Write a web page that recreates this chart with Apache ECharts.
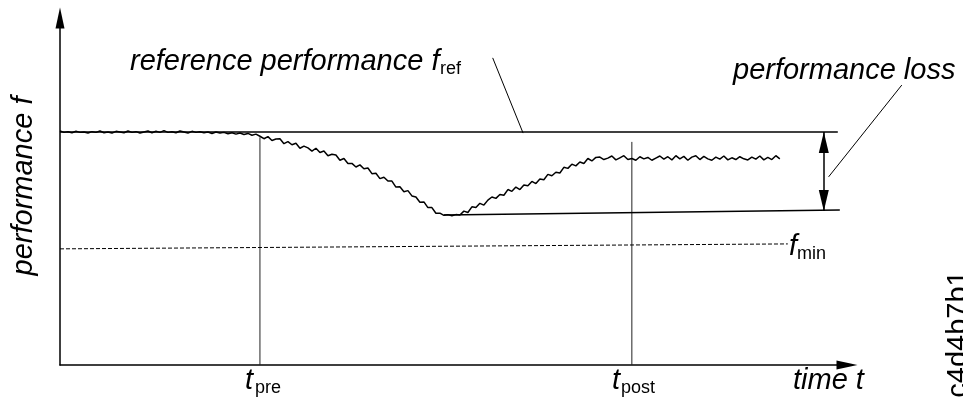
<!DOCTYPE html>
<html>
<head>
<meta charset="utf-8">
<script src="https://cdn.jsdelivr.net/npm/echarts@6/dist/echarts.min.js"></script>
<style>
html,body{margin:0;padding:0;background:#fff;}
#chart{width:963px;height:402px;}
</style>
</head>
<body>
<div id="chart"></div>
<script>
// ---- data (time t, performance f) ----
const performanceCurve = [
[0,66.3],[0.5,65.9],[1,66.1],[1.5,65.8],[2,66.2],[2.5,65.9],[3,66.0],[3.5,65.7],[4,66.1],[4.5,65.9],
[5,66.3],[5.5,65.8],[6,66.0],[6.5,65.7],[7,66.2],[7.5,66.0],[8,65.8],[8.5,66.3],[9,65.9],[9.5,66.1],
[10,65.7],[10.5,66.0],[11,66.3],[11.5,65.8],[12,66.2],[12.5,65.9],[13,66.4],[13.5,65.9],[14,66.1],[14.5,65.8],
[15,66.3],[15.5,66.0],[16,65.7],[16.5,66.2],[17,65.9],[17.5,66.1],[18,65.8],[18.5,66.0],[19,65.6],[19.5,66.0],
[20,65.7],[20.5,65.9],[21,65.5],[21.5,65.8],[22,65.4],[22.5,65.7],[23,65.3],[23.5,65.6],[24,65.1],[24.5,65.4],
[25,64.8],[25.5,64.1],[26,64.7],[26.5,63.6],[27,64.0],[27.5,64.1],[28,62.7],[28.5,63.3],[29,62.4],[29.5,62.8],
[30,61.4],[30.5,62.0],[31,61.5],[31.5,60.6],[32,61.4],[32.5,60.2],[33,60.6],[33.5,59.3],[34,59.7],[34.5,59.5],
[35,58.0],[35.5,58.5],[36,57.1],[36.5,57.1],[37,56.1],[37.5,56.7],[38,55.6],[38.5,55.8],[39,54.2],[39.5,54.3],
[40,52.8],[40.5,53.2],[41,52.1],[41.5,52.1],[42,50.4],[42.5,50.5],[43,49.1],[43.5,49.4],[44,47.9],[44.5,47.6],
[45,46.1],[45.5,46.2],[46,44.6],[46.5,44.6],[47,43.0],[47.5,43.0],[48,42.4],[48.5,42.6],[49,42.3],[49.5,42.6],
[50,42.5],[50.5,43.6],[51,43.2],[51.5,44.8],[52,44.6],[52.5,45.8],[53,45.3],[53.5,46.7],[54,47.6],[54.5,47.2],
[55,48.3],[55.5,48.1],[56,49.7],[56.5,49.2],[57,50.4],[57.5,49.7],[58,51.0],[58.5,50.8],[59,52.0],[59.5,51.4],
[60,52.7],[60.5,52.5],[61,54.0],[61.5,53.6],[62,54.6],[62.5,54.4],[63,56.0],[63.5,55.7],[64,56.9],[64.5,56.4],
[65,57.5],[65.5,57.1],[66,58.5],[66.5,57.8],[67,58.8],[67.5,58.9],[68,58.2],[68.5,58.6],[69,59.2],[69.5,58.1],
[70,58.7],[70.5,59.3],[71,58.2],[71.5,58.5],[72,58.0],[72.5,59.0],[73,58.4],[73.5,58.8],[74,58.0],[74.5,58.6],
[75,59.2],[75.5,58.3],[76,59.0],[76.5,58.1],[77,59.3],[77.5,58.4],[78,59.1],[78.5,58.0],[79,58.9],[79.5,59.3],
[80,58.2],[80.5,59.1],[81,58.4],[81.5,58.0],[82,58.9],[82.5,58.3],[83,59.2],[83.5,58.1],[84,58.7],[84.5,58.2],
[85,59.0],[85.5,58.4],[86,58.1],[86.5,58.9],[87,58.3],[87.5,59.2],[88,58.1],[88.5,58.8],[89,58.2],[89.5,59.3],
[90,58.4]
];
const refLine = [[0,66],[97.25,66]];
const lossLine = [[48,42.5],[97.5,43.9]];
const fMinLine = [[0,32.9],[91,34.3]];
const tPreLine = [[25,64.5],[25,0]];
const tPostLine = [[71.5,63.2],[71.5,0]];
const lossArrow = [[95.5,66],[95.5,43.6]];
const refLeader = [[54.1,87.0],[57.9,65.7]];
const lossLeader = [[105.25,79.3],[96.1,53.3]];
const axisRange = { xMax: 98.4, yMax: 98.3 };

// ---- texts ----
const texts = {
  refMain: 'reference performance f', refSub: 'ref',
  loss: 'performance loss',
  yName: 'performance f',
  fMin: 'f', fMinSub: 'min',
  tPre: 't', tPreSub: 'pre',
  tPost: 't', tPostSub: 'post',
  xName: 'time t',
  code: 'c4d4b7b1'
};

const FONT = '"Liberation Sans", Arial, sans-serif';
const BIG = 29, SUB = 18;
function txt(text, x, baseline, size, italic, extra) {
  const off = size * 0.3465;
  return Object.assign({
    type: 'text', x: x, y: baseline - off, silent: true,
    style: { text: text, fill: '#000', font: (italic ? 'italic ' : '') + size + 'px ' + FONT, align: 'left', verticalAlign: 'middle' }
  }, extra || {});
}

const chart = echarts.init(document.getElementById('chart'), null, { renderer: 'canvas' });
const lineBase = (data, w, extra) => Object.assign({
  type: 'line', data: data, showSymbol: false, symbol: 'none', silent: true, animation: false,
  lineStyle: { color: '#000', width: w }
}, extra || {});

chart.setOption({
  backgroundColor: '#fff',
  animation: false,
  grid: { left: 60, right: 116, top: 18, bottom: 37 },
  xAxis: {
    type: 'value', min: 0, max: axisRange.xMax,
    axisLine: { show: true, onZero: false, symbol: ['none', 'triangle'], symbolSize: [9, 21], lineStyle: { color: '#000', width: 1.5 } },
    axisTick: { show: false }, axisLabel: { show: false }, splitLine: { show: false }
  },
  yAxis: {
    type: 'value', min: 0, max: axisRange.yMax,
    axisLine: { show: true, onZero: false, symbol: ['none', 'triangle'], symbolSize: [9, 21], lineStyle: { color: '#000', width: 1.5 } },
    axisTick: { show: false }, axisLabel: { show: false }, splitLine: { show: false }
  },
  series: [
    lineBase(tPreLine, 1, { lineStyle: { color: '#222', width: 1 } }),
    lineBase(tPostLine, 1, { lineStyle: { color: '#222', width: 1 } }),
    lineBase(fMinLine, 1, { lineStyle: { color: '#000', width: 1, type: [4, 2] } }),
    lineBase(refLine, 1.4),
    lineBase(lossLine, 1.4, {
      markLine: {
        silent: true, animation: false,
        symbol: ['triangle', 'triangle'], symbolSize: [10, 21], symbolOffset: [[0, 10.5], [0, 10.5]],
        label: { show: false },
        lineStyle: { color: '#000', width: 1.5, type: 'solid' },
        data: [[{ coord: lossArrow[0] }, { coord: lossArrow[1] }]]
      }
    }),
    lineBase(refLeader, 1),
    lineBase(performanceCurve, 1.5)
  ]
});

// leader line for "performance loss" lies partly outside the plot area: convert through the axes
const lp0 = chart.convertToPixel({ gridIndex: 0 }, lossLeader[0]);
const lp1 = chart.convertToPixel({ gridIndex: 0 }, lossLeader[1]);

chart.setOption({
  graphic: [
    { type: 'line', silent: true, shape: { x1: lp0[0], y1: lp0[1], x2: lp1[0], y2: lp1[1] }, style: { stroke: '#000', lineWidth: 1 } },
    txt(texts.refMain, 130, 72, BIG, true),
    txt(texts.refSub, 440, 75, SUB, false),
    txt(texts.loss, 733, 81, BIG, true),
    txt(texts.fMin, 789, 257, BIG, true),
    txt(texts.fMinSub, 797, 260, SUB, false),
    txt(texts.tPre, 245, 391, BIG, true),
    txt(texts.tPreSub, 255, 394, SUB, false),
    txt(texts.tPost, 612, 391, BIG, true),
    txt(texts.tPostSub, 621, 394, SUB, false),
    txt(texts.xName, 793, 391, BIG, true),
    { type: 'text', x: 24, y: 186, rotation: Math.PI / 2, silent: true,
      style: { text: texts.yName, fill: '#000', font: 'italic ' + BIG + 'px ' + FONT, align: 'center', verticalAlign: 'middle' } },
    { type: 'text', x: 959, y: 334, rotation: Math.PI / 2, silent: true,
      style: { text: texts.code, fill: '#000', font: BIG + 'px ' + FONT, align: 'center', verticalAlign: 'middle' } }
  ]
});
</script>
</body>
</html>
